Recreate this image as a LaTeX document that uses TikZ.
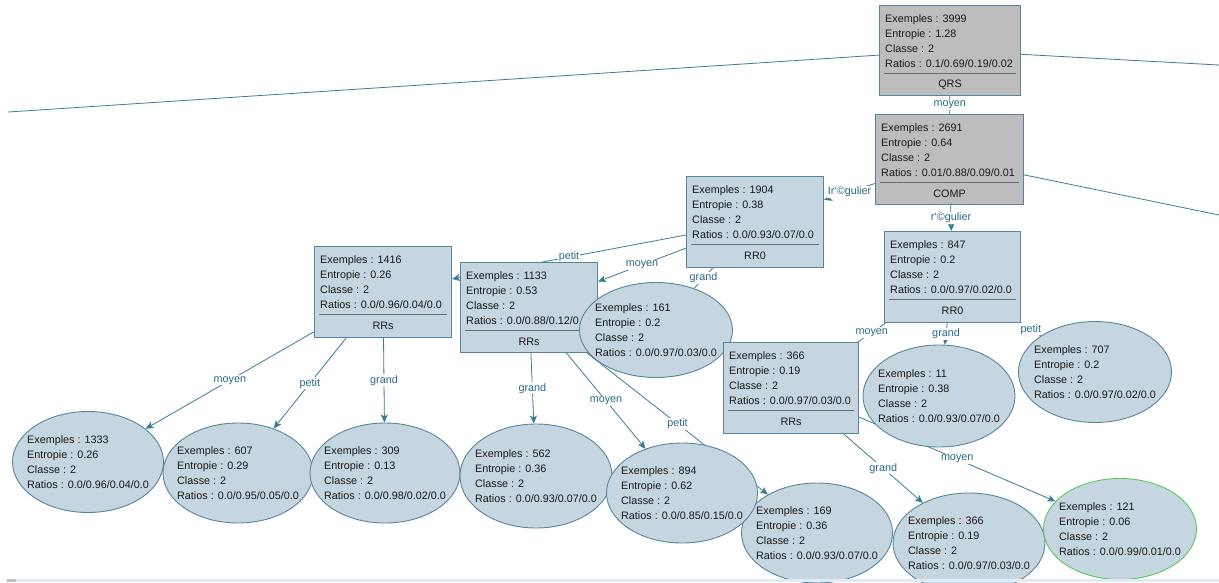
\documentclass[tikz,border=0pt]{standalone}
\usepackage{fontspec}
\setmainfont{Liberation Sans}
\usetikzlibrary{arrows.meta,shapes.geometric}
\definecolor{nodefill}{RGB}{197,214,224}
\definecolor{grayfill}{RGB}{189,189,189}
\definecolor{nodeborder}{RGB}{88,133,158}
\definecolor{edgecol}{RGB}{62,124,148}
\definecolor{labcol}{RGB}{40,105,135}
\definecolor{txtcol}{RGB}{25,25,25}
\definecolor{sepcol}{RGB}{100,110,118}
\definecolor{leafgreen}{RGB}{90,200,90}
\definecolor{stripcol}{RGB}{225,235,248}
\pgfdeclarelayer{bg}
\pgfsetlayers{bg,main}
\tikzset{
 treebox/.style={rectangle, draw=nodeborder, fill=nodefill, line width=1pt, inner sep=0pt, anchor=north west},
 graybox/.style={treebox, fill=grayfill},
 leaf/.style={ellipse, draw=nodeborder, fill=nodefill, line width=0.9pt, inner sep=0pt},
 info/.style={font=\fontsize{10.8}{15}\selectfont, text=txtcol, align=left, inner sep=0pt},
 attr/.style={font=\fontsize{10.8}{13}\selectfont, text=txtcol, inner sep=0pt},
 seprule/.style={draw=sepcol, line width=0.9pt},
 edge/.style={draw=edgecol, line width=0.8pt},
 arr/.style={edge, -{Stealth[length=8pt,width=7pt,inset=2pt]}},
 elab/.style={font=\fontsize{10.8}{13}\selectfont, text=labcol, fill=white, inner sep=1pt}
}
% #1 name, #2 style, #3 x, #4 y, #5 w, #6 h, #7 lines, #8 attribute
\newcommand{\dtbox}[8]{%
 \node[#2, minimum width=#5pt, minimum height=#6pt] (#1) at (#3,#4) {};
 \node[info, anchor=west] at ([shift={(6pt,-36pt)}]#1.north west) {#7};
 \draw[seprule] ([shift={(5pt,-68pt)}]#1.north west) -- ([shift={(-5pt,-68pt)}]#1.north east);
 \node[attr] at ([yshift=-80pt]#1.north) {#8};
}
% #1 name, #2 extra style, #3 x, #4 y, #5 w, #6 h, #7 lines
\newcommand{\dtleaf}[7]{%
 \node[leaf, #2, minimum width=#5pt, minimum height=#6pt] (#1) at (#3,#4) {};
 \node[info] at (#1.center) {#7};
}
\begin{document}
\begin{tikzpicture}[x=1pt,y=-1pt]
\useasboundingbox (0,0) rectangle (1219,582);

% internal nodes
\dtbox{nQRS}{graybox}{879}{5}{141}{90}{Exemples : 3999\\Entropie : 1.28\\Classe : 2\\Ratios : 0.1/0.69/0.19/0.02}{QRS}
\dtbox{nCOMP}{graybox}{875}{114}{148}{90}{Exemples : 2691\\Entropie : 0.64\\Classe : 2\\Ratios : 0.01/0.88/0.09/0.01}{COMP}
\dtbox{n1904}{treebox}{686}{176}{137}{91}{Exemples : 1904\\Entropie : 0.38\\Classe : 2\\Ratios : 0.0/0.93/0.07/0.0}{RR0}
\dtbox{n847}{treebox}{884}{231}{136}{91}{Exemples : 847\\Entropie : 0.2\\Classe : 2\\Ratios : 0.0/0.97/0.02/0.0}{RR0}
\dtbox{n1416}{treebox}{314}{246}{137}{91}{Exemples : 1416\\Entropie : 0.26\\Classe : 2\\Ratios : 0.0/0.96/0.04/0.0}{RRs}
\dtbox{n1133}{treebox}{460}{262}{137}{90}{Exemples : 1133\\Entropie : 0.53\\Classe : 2\\Ratios : 0.0/0.88/0.12/0.0}{RRs}
\dtleaf{n161}{}{656}{330}{153}{95}{Exemples : 161\\Entropie : 0.2\\Classe : 2\\Ratios : 0.0/0.97/0.03/0.0}
\dtbox{n366}{treebox}{723}{342}{135}{91}{Exemples : 366\\Entropie : 0.19\\Classe : 2\\Ratios : 0.0/0.97/0.03/0.0}{RRs}

% leaves
\dtleaf{n11}{}{939}{396}{152}{102}{Exemples : 11\\Entropie : 0.38\\Classe : 2\\Ratios : 0.0/0.93/0.07/0.0}
\dtleaf{n707}{}{1095}{372}{153}{101}{Exemples : 707\\Entropie : 0.2\\Classe : 2\\Ratios : 0.0/0.97/0.02/0.0}
\dtleaf{n1333}{}{88}{462}{151}{101}{Exemples : 1333\\Entropie : 0.26\\Classe : 2\\Ratios : 0.0/0.96/0.04/0.0}
\dtleaf{n607}{}{238}{473}{150}{100}{Exemples : 607\\Entropie : 0.29\\Classe : 2\\Ratios : 0.0/0.95/0.05/0.0}
\dtleaf{n309}{}{385}{473}{150}{100}{Exemples : 309\\Entropie : 0.13\\Classe : 2\\Ratios : 0.0/0.98/0.02/0.0}
\dtleaf{n562}{}{536}{476}{152}{104}{Exemples : 562\\Entropie : 0.36\\Classe : 2\\Ratios : 0.0/0.93/0.07/0.0}
\dtleaf{n169}{}{817}{533}{151}{100}{Exemples : 169\\Entropie : 0.36\\Classe : 2\\Ratios : 0.0/0.93/0.07/0.0}
\dtleaf{n894}{}{682}{493}{151}{100}{Exemples : 894\\Entropie : 0.62\\Classe : 2\\Ratios : 0.0/0.85/0.15/0.0}
\dtleaf{n366b}{}{969}{543}{152}{100}{Exemples : 366\\Entropie : 0.19\\Classe : 2\\Ratios : 0.0/0.97/0.03/0.0}
\dtleaf{n121}{draw=leafgreen}{1120}{529}{153}{101}{Exemples : 121\\Entropie : 0.06\\Classe : 2\\Ratios : 0.0/0.99/0.01/0.0}

% free ends of edges leaving the view
\coordinate (offL) at (8,112);
\coordinate (offR1) at (1219,65);
\coordinate (offR2) at (1219,215);

\begin{pgfonlayer}{bg}
\fill[white] (0,0) rectangle (1219,582);
\draw[edge] (nQRS) -- (offL);
\draw[edge] (nQRS) -- (offR1);
\draw[edge] (nCOMP) -- (offR2);
\draw[edge] (nQRS) -- node[elab]{moyen} (nCOMP);
\draw[arr] (nCOMP) -- node[elab]{r‘©gulier} (n847);
\draw[arr] (nCOMP) -- node[elab]{Ir‘©gulier} (n1904);
\draw[arr] (n1904) -- node[elab]{petit} (n1416);
\draw[arr] (n1904) -- node[elab]{moyen} (n1133);
\draw[edge] (n1904) -- node[elab]{grand} (n161);
\draw[edge] (n847) -- node[elab]{moyen} (n366);
\draw[arr] (n847) -- node[elab]{grand} (n11);
\draw[edge] (n847) -- node[elab]{petit} (n707);
\draw[arr] (n1416) -- node[elab]{moyen} (n1333);
\draw[arr] (n1416) -- node[elab]{petit} (n607);
\draw[arr] (n1416) -- node[elab]{grand} (n309);
\draw[arr] (n1133) -- node[elab]{grand} (n562);
\draw[arr] (n1133) -- node[elab]{moyen} (n894);
\draw[arr] (n1133) -- node[elab]{petit} (n169);
\draw[arr] (n366) -- node[elab]{grand} (n366b);
\draw[arr] (n366) -- node[elab]{moyen} (n121);
\end{pgfonlayer}

% bottom strip of the window
\fill[stripcol] (7,579) rectangle (1219,582);
\fill[gray!50] (7,579) rectangle (16,582);
\end{tikzpicture}
\end{document}
